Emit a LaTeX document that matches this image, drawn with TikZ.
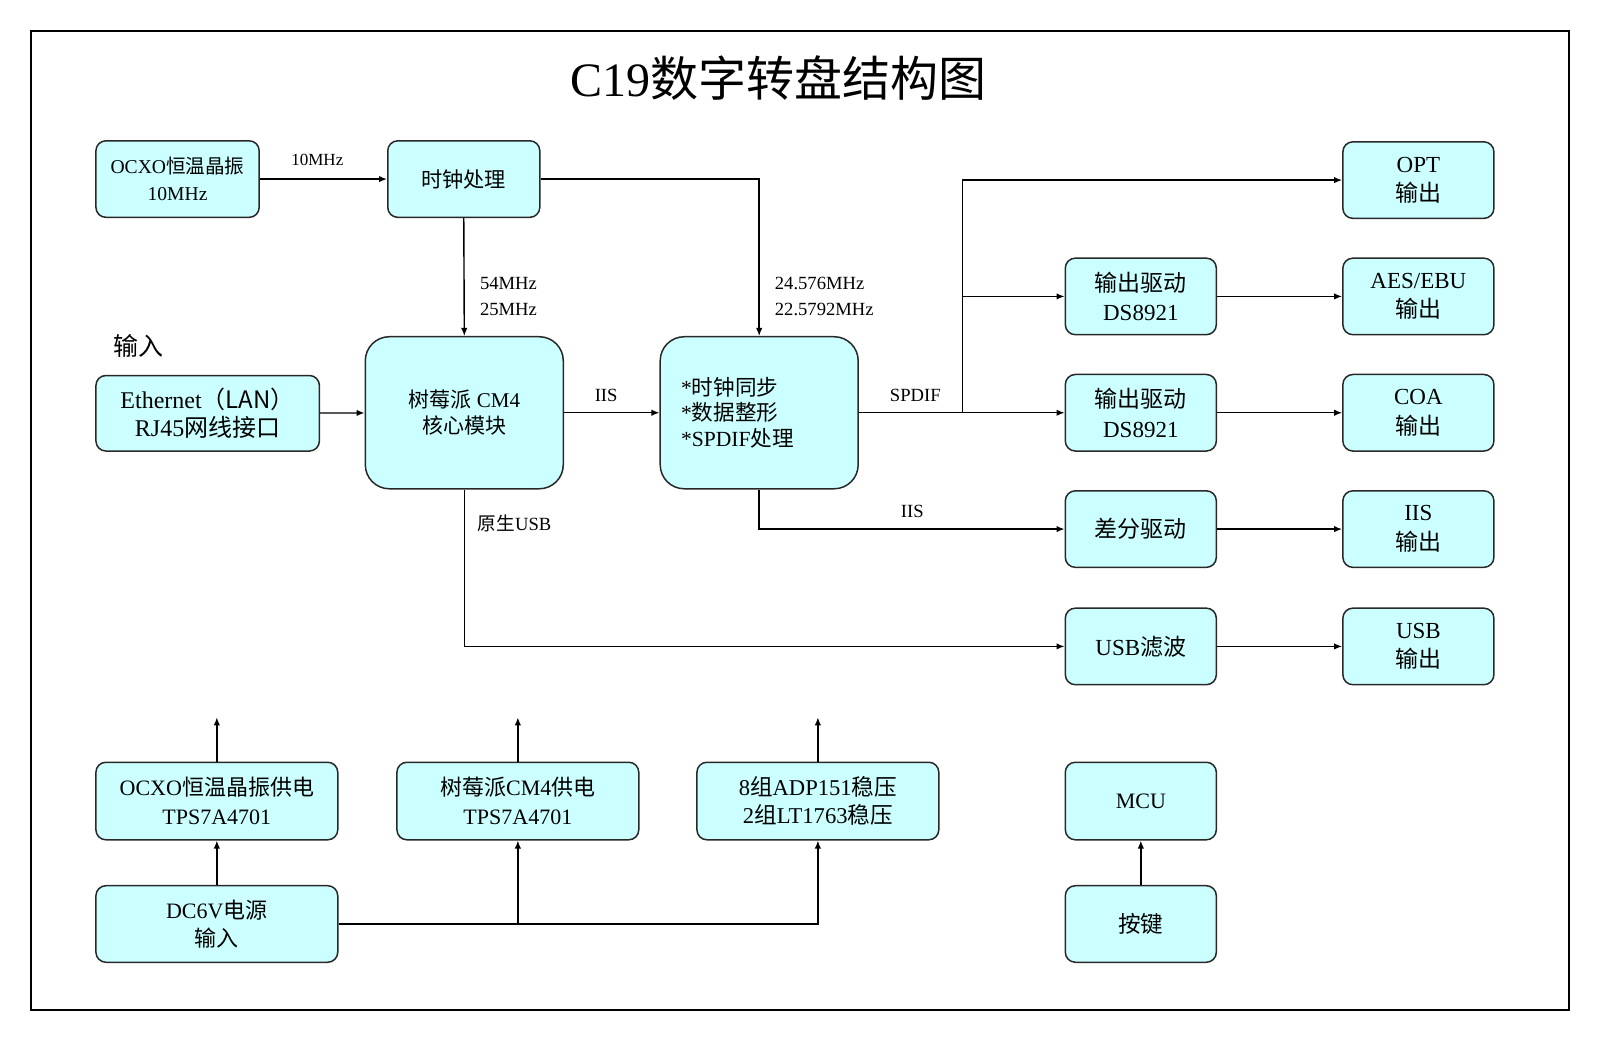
\documentclass[tikz,border=0pt]{standalone}
\usepackage{fontspec}
\setmainfont{Liberation Serif}
\newfontfamily\cjk{Noto Sans CJK SC}
\newcommand{\zh}[1]{{\cjk #1}}
\usetikzlibrary{arrows.meta}
\definecolor{boxfill}{RGB}{204,255,255}
\definecolor{boxline}{RGB}{40,40,40}
\begin{document}
\begin{tikzpicture}[x=0.5102pt,y=-0.5102pt,
  box/.style={draw=boxline, fill=boxfill, rounded corners=5pt, line width=0.75pt,
    align=center, inner sep=0pt, font=\fontsize{11.5}{14.8}\selectfont},
  bigbox/.style={box, rounded corners=12pt},
  fs/.style 2 args={font=\fontsize{#1}{#2}\selectfont},
  sz/.style 2 args={minimum width={#1*0.5102pt}, minimum height={#2*0.5102pt}},
  arr/.style={-{Latex[length=4pt,width=3.2pt]}, line width=0.7pt},
  lbl/.style={font=\fontsize{9.3}{12.8}\selectfont, inner sep=0pt, align=left}]
\useasboundingbox (0,0) rectangle (1568,1020.2);
\draw[line width=1pt] (30,30) rectangle (1538,990);
\node[font=\fontsize{24}{30}\selectfont, inner sep=0pt] (title) at (763,77) {C19\zh{数字转盘结构图}};

% top row
\node[box, fs={9.8}{13.3}, sz={160}{75}] (ocxo) at (174,175.5) {OCXO\zh{恒温晶振}\\10MHz};
\node[box, fs={10.6}{13}, sz={149}{75}] (clk) at (454.5,175.5) {\zh{时钟处理}};
\node[font=\fontsize{12.5}{14}\selectfont, inner sep=0pt] (inlbl) at (136,339) {\zh{输入}};
\node[box, fs={12}{14.3}, sz={219}{74}] (eth) at (203.5,405) {Ethernet\zh{（LAN）}\\RJ45\zh{网线接口}};
\node[bigbox, fs={10.5}{12.8}, sz={194}{149}] (cm4) at (455,404.5) {\zh{树莓派} CM4\\\zh{核心模块}};
\node[bigbox, sz={194}{149}] (proc) at (744,404.5) {};
\node[font=\fontsize{10.8}{12.8}\selectfont, inner sep=0pt, align=left, anchor=west] (proctxt) at (667,404.5) {*\zh{时钟同步}\\*\zh{数据整形}\\*SPDIF\zh{处理}};

% outputs
\node[box, sz={148}{75}] (opt) at (1390,176.5) {OPT\\\zh{输出}};
\node[box, sz={148}{75}] (ds1) at (1118,290.5) {\zh{输出驱动}\\DS8921};
\node[box, sz={148}{75}] (aes) at (1390,290.5) {AES/EBU\\\zh{输出}};
\node[box, sz={148}{75}] (ds2) at (1118,404.5) {\zh{输出驱动}\\DS8921};
\node[box, sz={148}{75}] (coa) at (1390,404.5) {COA\\\zh{输出}};
\node[box, sz={148}{75}] (diff) at (1118,518.5) {\zh{差分驱动}};
\node[box, sz={148}{75}] (iiso) at (1390,518.5) {IIS\\\zh{输出}};
\node[box, sz={148}{75}] (usbf) at (1118,633.5) {USB\zh{滤波}};
\node[box, sz={148}{75}] (usbo) at (1390,633.5) {USB\\\zh{输出}};

% power
\node[box, fs={11}{14.8}, sz={237}{76}] (pw1) at (212.5,785) {OCXO\zh{恒温晶振供电}\\TPS7A4701};
\node[box, fs={11}{14.8}, sz={237}{76}] (pw2) at (507.5,785) {\zh{树莓派}CM4\zh{供电}\\TPS7A4701};
\node[box, fs={11.3}{14}, sz={237}{76}] (pw3) at (801.5,785) {8\zh{组}ADP151\zh{稳压}\\2\zh{组}LT1763\zh{稳压}};
\node[box, fs={11}{14}, sz={148}{76}] (mcu) at (1118,785) {MCU};
\node[box, fs={11}{13.8}, sz={237}{75}] (dc) at (212.5,905.5) {DC6V\zh{电源}\\\zh{输入}};
\node[box, fs={11.3}{14}, sz={148}{75}] (key) at (1118,905.5) {\zh{按键}};

% labels
\node[lbl, fs={8.5}{11}, anchor=center] (l10m) at (311,157) {10MHz};
\node[lbl, anchor=west] (l54) at (470,290.5) {54MHz\\25MHz};
\node[lbl, anchor=west] (l24) at (759,290.5) {24.576MHz\\22.5792MHz};
\node[lbl, anchor=center] (liis1) at (594,388) {IIS};
\node[lbl, anchor=center] (lspdif) at (897,388) {SPDIF};
\node[lbl, anchor=center] (liis2) at (894,501) {IIS};
\node[lbl, anchor=west] (lusb) at (468,513) {\zh{原生}USB};

% connectors
\draw[arr] (ocxo) -- (clk);
\draw[arr] (clk.south) -- (cm4.north);
\draw[arr] (clk.east) -| (proc.north);
\draw[arr] (eth) -- (cm4);
\draw[arr] (cm4) -- (proc);
\coordinate (br) at (943,404.5);
\draw[arr] (proc.east) -- (ds2.west);
\draw[arr] (br) |- (opt.west);
\draw[arr] (br) |- (ds1.west);
\draw[arr] (ds1) -- (aes);
\draw[arr] (ds2) -- (coa);
\draw[arr] (proc.south) |- (diff.west);
\draw[arr] (diff) -- (iiso);
\draw[arr] (cm4.south) |- (usbf.west);
\draw[arr] (usbf) -- (usbo);

\coordinate (up1) at (212.5,703);
\coordinate (up2) at (507.5,703);
\coordinate (up3) at (801.5,703);
\draw[arr] (pw1.north) -- (up1);
\draw[arr] (pw2.north) -- (up2);
\draw[arr] (pw3.north) -- (up3);
\draw[arr] (dc.north) -- (pw1.south);
\draw[arr] (dc.east) -| (pw3.south);
\draw[arr] (dc.east -| pw2.south) -- (pw2.south);
\draw[arr] (key.north) -- (mcu.south);
\end{tikzpicture}
\end{document}
